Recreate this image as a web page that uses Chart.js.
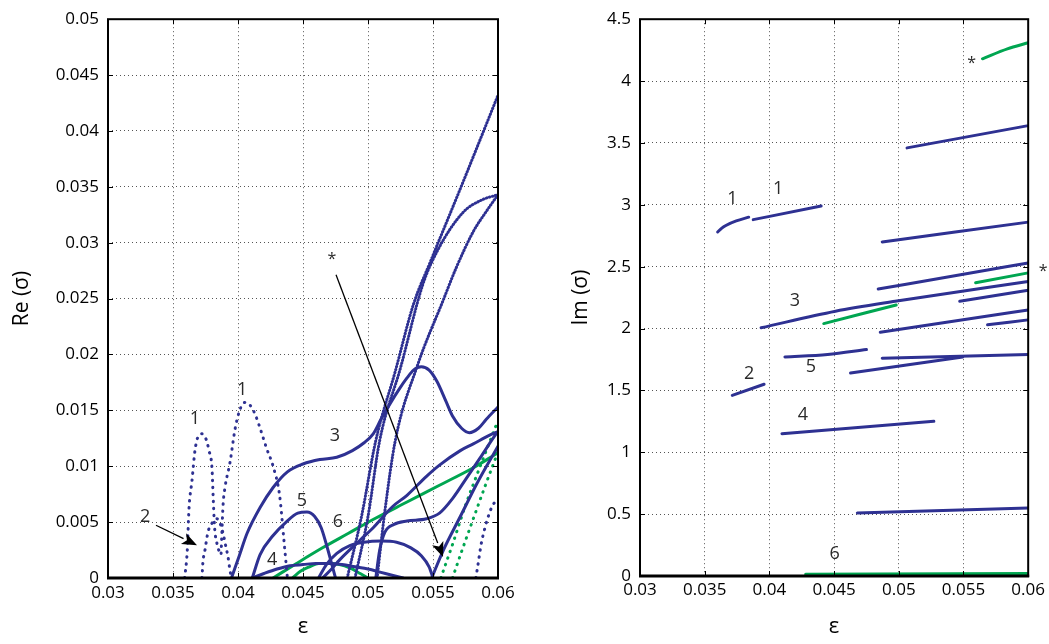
<!DOCTYPE html>
<html><head><meta charset="utf-8">
<script src="https://cdn.jsdelivr.net/npm/chart.js@4"></script>
<style>
html,body{margin:0;padding:0;background:#fff;width:1049px;height:644px;overflow:hidden}
#cl{position:absolute;left:0;top:0}
#cr{position:absolute;left:530px;top:0}
</style></head><body>
<canvas id="cl" width="520" height="644"></canvas>
<canvas id="cr" width="519" height="644"></canvas>
<script>
// ---------- ticks ----------
const xTickVals=[0.03,0.035,0.04,0.045,0.05,0.055,0.06];
const xTickLabels=['0.03','0.035','0.04','0.045','0.05','0.055','0.06'];
const reTickVals=[0,0.005,0.01,0.015,0.02,0.025,0.03,0.035,0.04,0.045,0.05];
const reTickLabels=['0','0.005','0.01','0.015','0.02','0.025','0.03','0.035','0.04','0.045','0.05'];
const imTickVals=[0,0.5,1,1.5,2,2.5,3,3.5,4,4.5];
const imTickLabels=['0','0.5','1','1.5','2','2.5','3','3.5','4','4.5'];

// ---------- Re(sigma) curves [eps, Re] ----------
const re_1a=[[0.0359,0],[0.0361,0.0025],[0.03623,0.0062],[0.03646,0.0087],[0.03669,0.0114],[0.03695,0.0127],[0.03723,0.0129],[0.03755,0.0124],[0.03777,0.0114],[0.038,0.0098],[0.03808,0.0075],[0.0382,0.0045],[0.03838,0.0031],[0.0386,0.0022]];
const re_2=[[0.03723,0],[0.0373,0.0014],[0.03746,0.0025],[0.03769,0.0041],[0.038,0.0049],[0.03838,0.0053],[0.03862,0.0049],[0.03885,0.004],[0.03905,0.0029],[0.03923,0.0019],[0.03938,0.0007],[0.0395,0]];
const re_1b=[[0.0387,0.0022],[0.03885,0.0065],[0.039,0.0081],[0.03938,0.0103],[0.03977,0.0133],[0.0401,0.0149],[0.0405,0.0157],[0.0409,0.0155],[0.0413,0.0147],[0.0417,0.0134],[0.0422,0.0116],[0.0427,0.01],[0.0432,0.0074],[0.0435,0.0038],[0.0438,0]];
const re_3=[[0.0395,0],[0.0401,0.002],[0.0407,0.004],[0.0417,0.0063],[0.0427,0.0081],[0.0438,0.0095],[0.045,0.0102],[0.0463,0.0106],[0.0476,0.0108],[0.0488,0.0114],[0.0497,0.0121],[0.0504,0.0129],[0.051,0.0142],[0.0517,0.0156],[0.0524,0.0169],[0.053,0.0179],[0.0535,0.0186],[0.0541,0.0189],[0.0547,0.0186],[0.0553,0.0176],[0.056,0.0158],[0.0565,0.0145],[0.0572,0.0134],[0.0578,0.013],[0.0585,0.0134],[0.0591,0.0142],[0.06,0.0153]];
const re_5=[[0.0411,0],[0.0417,0.0021],[0.0427,0.0038],[0.0437,0.005],[0.0446,0.0058],[0.0453,0.0059],[0.0459,0.0055],[0.0464,0.0045],[0.0468,0.003],[0.0472,0.0013],[0.0475,0]];
const re_4=[[0.0411,0],[0.042,0.0004],[0.043,0.0008],[0.044,0.0011],[0.045,0.0012],[0.046,0.0013],[0.047,0.0013],[0.048,0.0012],[0.049,0.001],[0.05,0.0008],[0.051,0.0005],[0.052,0.0002],[0.0527,0]];
const re_arch=[[0.0462,0],[0.0468,0.0012],[0.0476,0.0022],[0.0486,0.0029],[0.0497,0.0032],[0.051,0.0033],[0.0522,0.0032],[0.0533,0.0027],[0.0541,0.002],[0.0547,0.001],[0.055,0]];
const re_a=[[0.0465,0],[0.0472,0.0008],[0.0478,0.0016],[0.0494,0.0034],[0.0504,0.0045],[0.0519,0.0064],[0.053,0.0074],[0.0545,0.0091],[0.0555,0.0101],[0.0571,0.0114],[0.0581,0.012],[0.0594,0.0128],[0.06,0.0131]];
const re_b=[[0.0506,0],[0.0509,0.0025],[0.0513,0.0041],[0.052,0.0048],[0.053,0.0051],[0.0545,0.0053],[0.0555,0.0058],[0.0565,0.0071],[0.0575,0.0088],[0.0586,0.0107],[0.0598,0.0128],[0.06,0.0131]];
const re_d=[[0.0549,0],[0.0558,0.0025],[0.0571,0.0055],[0.0584,0.0085],[0.06,0.0118]];
const re_p1=[[0.0484,0],[0.0495,0.0055],[0.0506,0.0123],[0.0521,0.0185],[0.0535,0.0245],[0.0548,0.0283],[0.0573,0.0354],[0.06,0.0432]];
const re_p2=[[0.049,0],[0.05,0.0055],[0.0509,0.0123],[0.0525,0.0188],[0.0542,0.0262],[0.0553,0.0292],[0.0573,0.0327],[0.0587,0.0338],[0.06,0.0343]];
const re_p3=[[0.0507,0],[0.0513,0.006],[0.0521,0.0123],[0.0538,0.019],[0.0558,0.0249],[0.0568,0.0278],[0.0581,0.031],[0.0591,0.0328],[0.06,0.0343]];
const re_k=[[0.0583,0],[0.0585,0.0015],[0.0587,0.003],[0.059,0.0045],[0.0594,0.006],[0.0597,0.0067],[0.06,0.0069]];
const re_6=[[0.0427,0],[0.0445,0.0013],[0.0465,0.0027],[0.0485,0.004],[0.0505,0.0053],[0.053,0.0068],[0.0555,0.0083],[0.058,0.0098],[0.06,0.0112]];
const re_garch=[[0.0442,0],[0.0448,0.0006],[0.0455,0.001],[0.0462,0.0013],[0.047,0.0013],[0.0478,0.0012],[0.0486,0.0009],[0.0494,0.0004],[0.05,0]];
const re_gL1=[[0.0556,0],[0.0565,0.003],[0.0575,0.0065],[0.0585,0.0096],[0.0593,0.012],[0.06,0.0141]];
const re_gL2=[[0.0565,0],[0.0573,0.0027],[0.0581,0.0053],[0.059,0.0082],[0.06,0.0113]];

// ---------- Im(sigma) segments [eps, Im] ----------
const im_1a=[[0.036,2.78],[0.0363,2.81],[0.03667,2.835],[0.03744,2.87],[0.0384,2.9]];
const im_1b=[[0.03875,2.88],[0.044,2.99]];
const im_top=[[0.05647,4.18],[0.05839,4.26],[0.06,4.31]];
const im_b1=[[0.05064,3.46],[0.06,3.64]];
const im_b2=[[0.04872,2.7],[0.06,2.86]];
const im_b3=[[0.04841,2.32],[0.05455,2.43],[0.06,2.53]];
const im_star=[[0.05594,2.37],[0.06,2.45]];
const im_3=[[0.03936,2.006],[0.04511,2.14],[0.04972,2.22],[0.06,2.38]];
const im_b4=[[0.05471,2.22],[0.06,2.31]];
const im_b5=[[0.04857,1.97],[0.06,2.15]];
const im_b6=[[0.05686,2.03],[0.06,2.07]];
const im_g3=[[0.0442,2.04],[0.0498,2.19]];
const im_5a=[[0.0412,1.77],[0.0445,1.79],[0.0475,1.83]];
const im_5b=[[0.04872,1.76],[0.06,1.79]];
const im_5c=[[0.04627,1.64],[0.05494,1.77]];
const im_2=[[0.03713,1.46],[0.03959,1.55]];
const im_4=[[0.04097,1.15],[0.05271,1.25]];
const im_b7=[[0.0468,0.51],[0.06,0.55]];
const im_6=[[0.0428,0.015],[0.06,0.02]];

// ---------- annotations (data units) ----------
const reNotes=[['1',0.03669,0.01423],['1',0.04031,0.01681],['2',0.03285,0.00543],['3',0.04746,0.01272],['5',0.04492,0.00694],['6',0.04769,0.00498],['4',0.04262,0.0016],['*',0.04723,0.02847]];
const reArrows=[[0.04754,0.02714,0.05577,0.00187],[0.03369,0.00472,0.03685,0.00294]];
const imNotes=[['1',0.03714,3.05],['1',0.04067,3.13],['3',0.04197,2.22],['2',0.03844,1.63],['5',0.0432,1.69],['4',0.04258,1.3],['6',0.04504,0.176],['*',0.05563,4.14],['*',0.06115,2.46]];

const BLUE='#2e3192', GREEN='#00a651', FONT='"Open Sans"';

function ds(data,color,style){
  const o={data:data.map(p=>({x:p[0],y:p[1]})),borderColor:color,backgroundColor:color,borderWidth:3,
    pointRadius:0,fill:false,cubicInterpolationMode:'monotone',borderCapStyle:'round',borderJoinStyle:'round'};
  if(style==='dot') o.borderDash=[0.5,6.5];
  if(style==='dense') o.borderDash=[0.5,2.6];
  return o;
}

function decor(notes,arrows){
  return {id:'decor',afterDatasetsDraw(chart){
    const {ctx,chartArea:a,scales:{x,y}}=chart;
    ctx.save();
    ctx.strokeStyle='#000';ctx.lineWidth=1;
    ctx.beginPath();
    x.ticks.forEach(t=>{const p=Math.round(x.getPixelForValue(t.value))+0.5;ctx.moveTo(p,a.bottom);ctx.lineTo(p,a.bottom-5);ctx.moveTo(p,a.top);ctx.lineTo(p,a.top+5);});
    y.ticks.forEach(t=>{const p=Math.round(y.getPixelForValue(t.value))+0.5;ctx.moveTo(a.left,p);ctx.lineTo(a.left+5,p);ctx.moveTo(a.right,p);ctx.lineTo(a.right-5,p);});
    ctx.stroke();
    ctx.lineWidth=2;
    ctx.strokeRect(a.left,a.top,a.right-a.left,a.bottom-a.top);
    ctx.lineWidth=3;ctx.beginPath();ctx.moveTo(a.left-1,a.bottom);ctx.lineTo(a.right+1,a.bottom);ctx.stroke();
    (arrows||[]).forEach(r=>{
      const x1=x.getPixelForValue(r[0]),y1=y.getPixelForValue(r[1]),x2=x.getPixelForValue(r[2]),y2=y.getPixelForValue(r[3]);
      const ang=Math.atan2(y2-y1,x2-x1),L=15,W=6;
      const bx=x2-L*Math.cos(ang),by=y2-L*Math.sin(ang);
      ctx.lineWidth=1.3;ctx.strokeStyle='#000';
      ctx.beginPath();ctx.moveTo(x1,y1);ctx.lineTo(bx,by);ctx.stroke();
      ctx.fillStyle='#000';ctx.beginPath();ctx.moveTo(x2,y2);
      ctx.lineTo(bx+W*Math.sin(ang),by-W*Math.cos(ang));
      ctx.lineTo(x2-L*0.75*Math.cos(ang),y2-L*0.75*Math.sin(ang));
      ctx.lineTo(bx-W*Math.sin(ang),by+W*Math.cos(ang));ctx.closePath();ctx.fill();
    });
    ctx.fillStyle='#2a2a2a';ctx.textAlign='center';ctx.textBaseline='middle';
    notes.forEach(n=>{
      ctx.font=(n[0]==='*'?'16px ':'18px ')+FONT;
      ctx.fillText(n[0],x.getPixelForValue(n[1]),y.getPixelForValue(n[2]));
    });
    ctx.restore();
  }};
}

function makeOpts(yVals,yLabels,yMax,yTitle,pad,yW,xH,yTitlePad,xPad){
  return {
    responsive:false,animation:false,devicePixelRatio:1,
    layout:{padding:pad},
    plugins:{legend:{display:false},tooltip:{enabled:false}},
    scales:{
      x:{type:'linear',min:0.03,max:0.06,
        afterBuildTicks:s=>{s.ticks=xTickVals.map(v=>({value:v}));},
        afterFit:s=>{s.height=xH;},
        ticks:{callback:(v,i)=>xTickLabels[i],font:{family:FONT,size:17},color:'#000',padding:xPad,maxRotation:0,autoSkip:false},
        grid:{color:'#555',lineWidth:1,drawTicks:false},
        border:{display:false,dash:[1,3]},
        title:{display:true,text:'ε',font:{family:FONT,size:22},color:'#000',padding:{top:0,bottom:4}}},
      y:{type:'linear',min:0,max:yMax,
        afterBuildTicks:s=>{s.ticks=yVals.map(v=>({value:v}));},
        afterFit:s=>{s.width=yW;},
        ticks:{callback:(v,i)=>yLabels[i],font:{family:FONT,size:17},color:'#000',padding:9,autoSkip:false},
        grid:{color:'#555',lineWidth:1,drawTicks:false},
        border:{display:false,dash:[1,3]},
        title:{display:true,text:yTitle,font:{family:FONT,size:21},color:'#000',padding:{top:yTitlePad,bottom:0}}}
    }
  };
}

new Chart(document.getElementById('cl'),{
  type:'line',
  data:{datasets:[
    ds(re_1a,BLUE,'dot'),ds(re_2,BLUE,'dot'),ds(re_1b,BLUE,'dot'),
    ds(re_3,BLUE),ds(re_5,BLUE),ds(re_4,BLUE),ds(re_arch,BLUE),ds(re_a,BLUE),ds(re_b,BLUE),ds(re_d,BLUE),
    ds(re_p1,BLUE,'dense'),ds(re_p2,BLUE,'dense'),ds(re_p3,BLUE,'dense'),ds(re_k,BLUE,'dot'),
    ds(re_6,GREEN),ds(re_garch,GREEN),ds(re_gL1,GREEN,'dot'),ds(re_gL2,GREEN,'dot')
  ]},
  options:makeOpts(reTickVals,reTickLabels,0.05,'Re (σ)',{top:16,right:22,left:0,bottom:0},108,66,9,5),
  plugins:[decor(reNotes,reArrows)]
});

new Chart(document.getElementById('cr'),{
  type:'line',
  data:{datasets:[
    ds(im_1a,BLUE),ds(im_1b,BLUE),ds(im_b1,BLUE),ds(im_b2,BLUE),ds(im_b3,BLUE),ds(im_3,BLUE),
    ds(im_b4,BLUE),ds(im_b5,BLUE),ds(im_b6,BLUE),ds(im_5a,BLUE),ds(im_5b,BLUE),ds(im_5c,BLUE),
    ds(im_2,BLUE),ds(im_4,BLUE),ds(im_b7,BLUE),
    ds(im_top,GREEN),ds(im_star,GREEN),ds(im_g3,GREEN),ds(im_6,GREEN)
  ]},
  options:makeOpts(imTickVals,imTickLabels,4.5,'Im (σ)',{top:13,right:18,left:0,bottom:0},110,68,38,4),
  plugins:[decor(imNotes,[])]
});
</script>
</body></html>
